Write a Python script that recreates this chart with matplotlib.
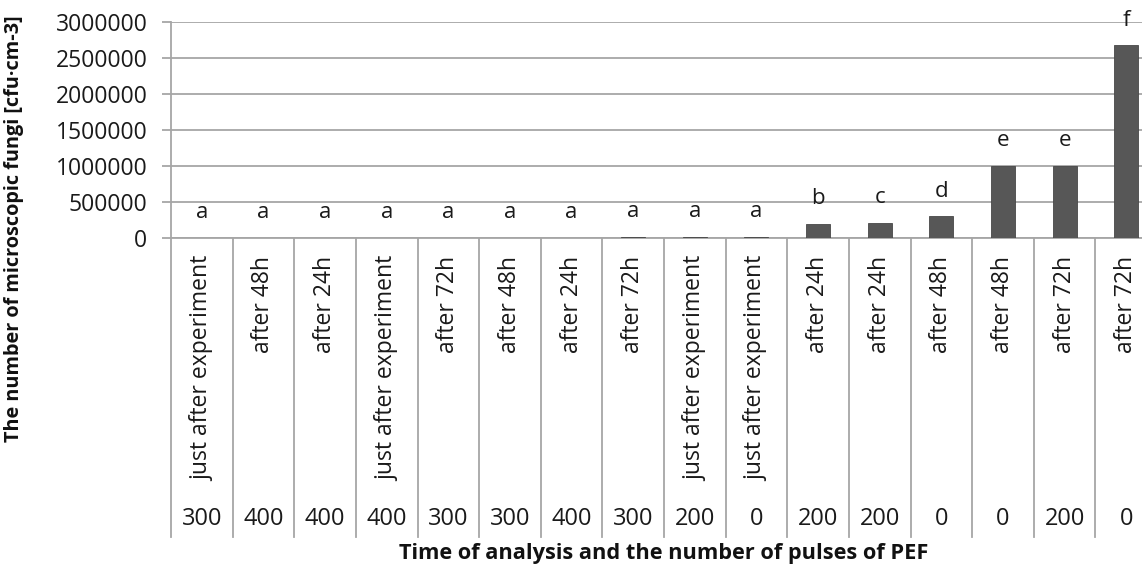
import matplotlib
matplotlib.use("Agg")
import matplotlib.pyplot as plt
import matplotlib.transforms as mtransforms

plt.rcParams['font.family'] = ['Open Sans', 'DejaVu Sans']

times = ["just after experiment", "after 48h", "after 24h", "just after experiment",
         "after 72h", "after 48h", "after 24h", "after 72h", "just after experiment",
         "just after experiment", "after 24h", "after 24h", "after 48h", "after 48h",
         "after 72h", "after 72h"]
pulses = ["300", "400", "400", "400", "300", "300", "400", "300", "200", "0",
          "200", "200", "0", "0", "200", "0"]
values = [0, 0, 0, 0, 0, 0, 0, 15000, 15000, 15000,
          200000, 215000, 300000, 1000000, 1000000, 2680000]
letters = ["a", "a", "a", "a", "a", "a", "a", "a", "a", "a",
           "b", "c", "d", "e", "e", "f"]
yticks = [0, 500000, 1000000, 1500000, 2000000, 2500000, 3000000]

W, H = 1142, 573
fig = plt.figure(figsize=(W / 100, H / 100), dpi=100)
left, right, top, bottom = 171, 1157, 22, 238
ax = fig.add_axes([left / W, 1 - bottom / H, (right - left) / W, (bottom - top) / H])

grid_c = '#a6a6a6'
txt_c = '#1a1a1a'
n = len(values)
x = list(range(n))
ax.bar(x, values, width=0.39, color='#575757', edgecolor='#474747', linewidth=0.6, zorder=3)

ax.set_xlim(-0.5, n - 0.5)
ax.set_ylim(0, 3000000)
ax.set_yticks(yticks)
ax.set_yticklabels([str(v) for v in yticks], fontsize=16.5, color=txt_c)
ax.yaxis.grid(True, color=grid_c, linewidth=1.3, zorder=0)
ax.set_axisbelow(True)
ax.tick_params(axis='y', length=6.5, width=1.3, color=grid_c, pad=10.5)
ax.set_xticks([])
for s in ['top', 'right']:
    ax.spines[s].set_visible(False)
ax.spines['left'].set_color(grid_c)
ax.spines['left'].set_linewidth(1.3)
ax.spines['bottom'].set_color(grid_c)
ax.spines['bottom'].set_linewidth(1.3)

# letters above bars
for xi, v, l in zip(x, values, letters):
    ax.annotate(l, (xi, v), xytext=(0, 18), textcoords='offset points',
                ha='center', va='center', fontsize=16, color=txt_c)

# category separators below axis
trans = ax.get_xaxis_transform()
sep_bottom = -(537 - bottom) / (bottom - top)
for k in range(n + 1):
    ax.plot([k - 0.5, k - 0.5], [0, sep_bottom], transform=trans, color=grid_c,
            linewidth=1.3, clip_on=False)

# category labels
bt = mtransforms.blended_transform_factory(ax.transData, fig.transFigure)
for xi, t, p in zip(x, times, pulses):
    ax.text(xi, 1 - 256 / H, t, transform=bt, rotation=90, ha='center', va='top',
            fontsize=16.5, color=txt_c)
    ax.text(xi, 1 - 519 / H, p, transform=bt, ha='center', va='center',
            fontsize=17, color=txt_c)

fig.text(664 / W, 1 - 553 / H, "Time of analysis and the number of pulses of PEF",
         ha='center', va='center', fontsize=15.7, fontweight='bold', color='#111111')
fig.text(14 / W, 1 - 229 / H, "The number of microscopic fungi [cfu·cm-3]",
         rotation=90, ha='center', va='center', fontsize=14.3, fontweight='bold',
         color='#111111')

fig.savefig("out.png", dpi=100)
